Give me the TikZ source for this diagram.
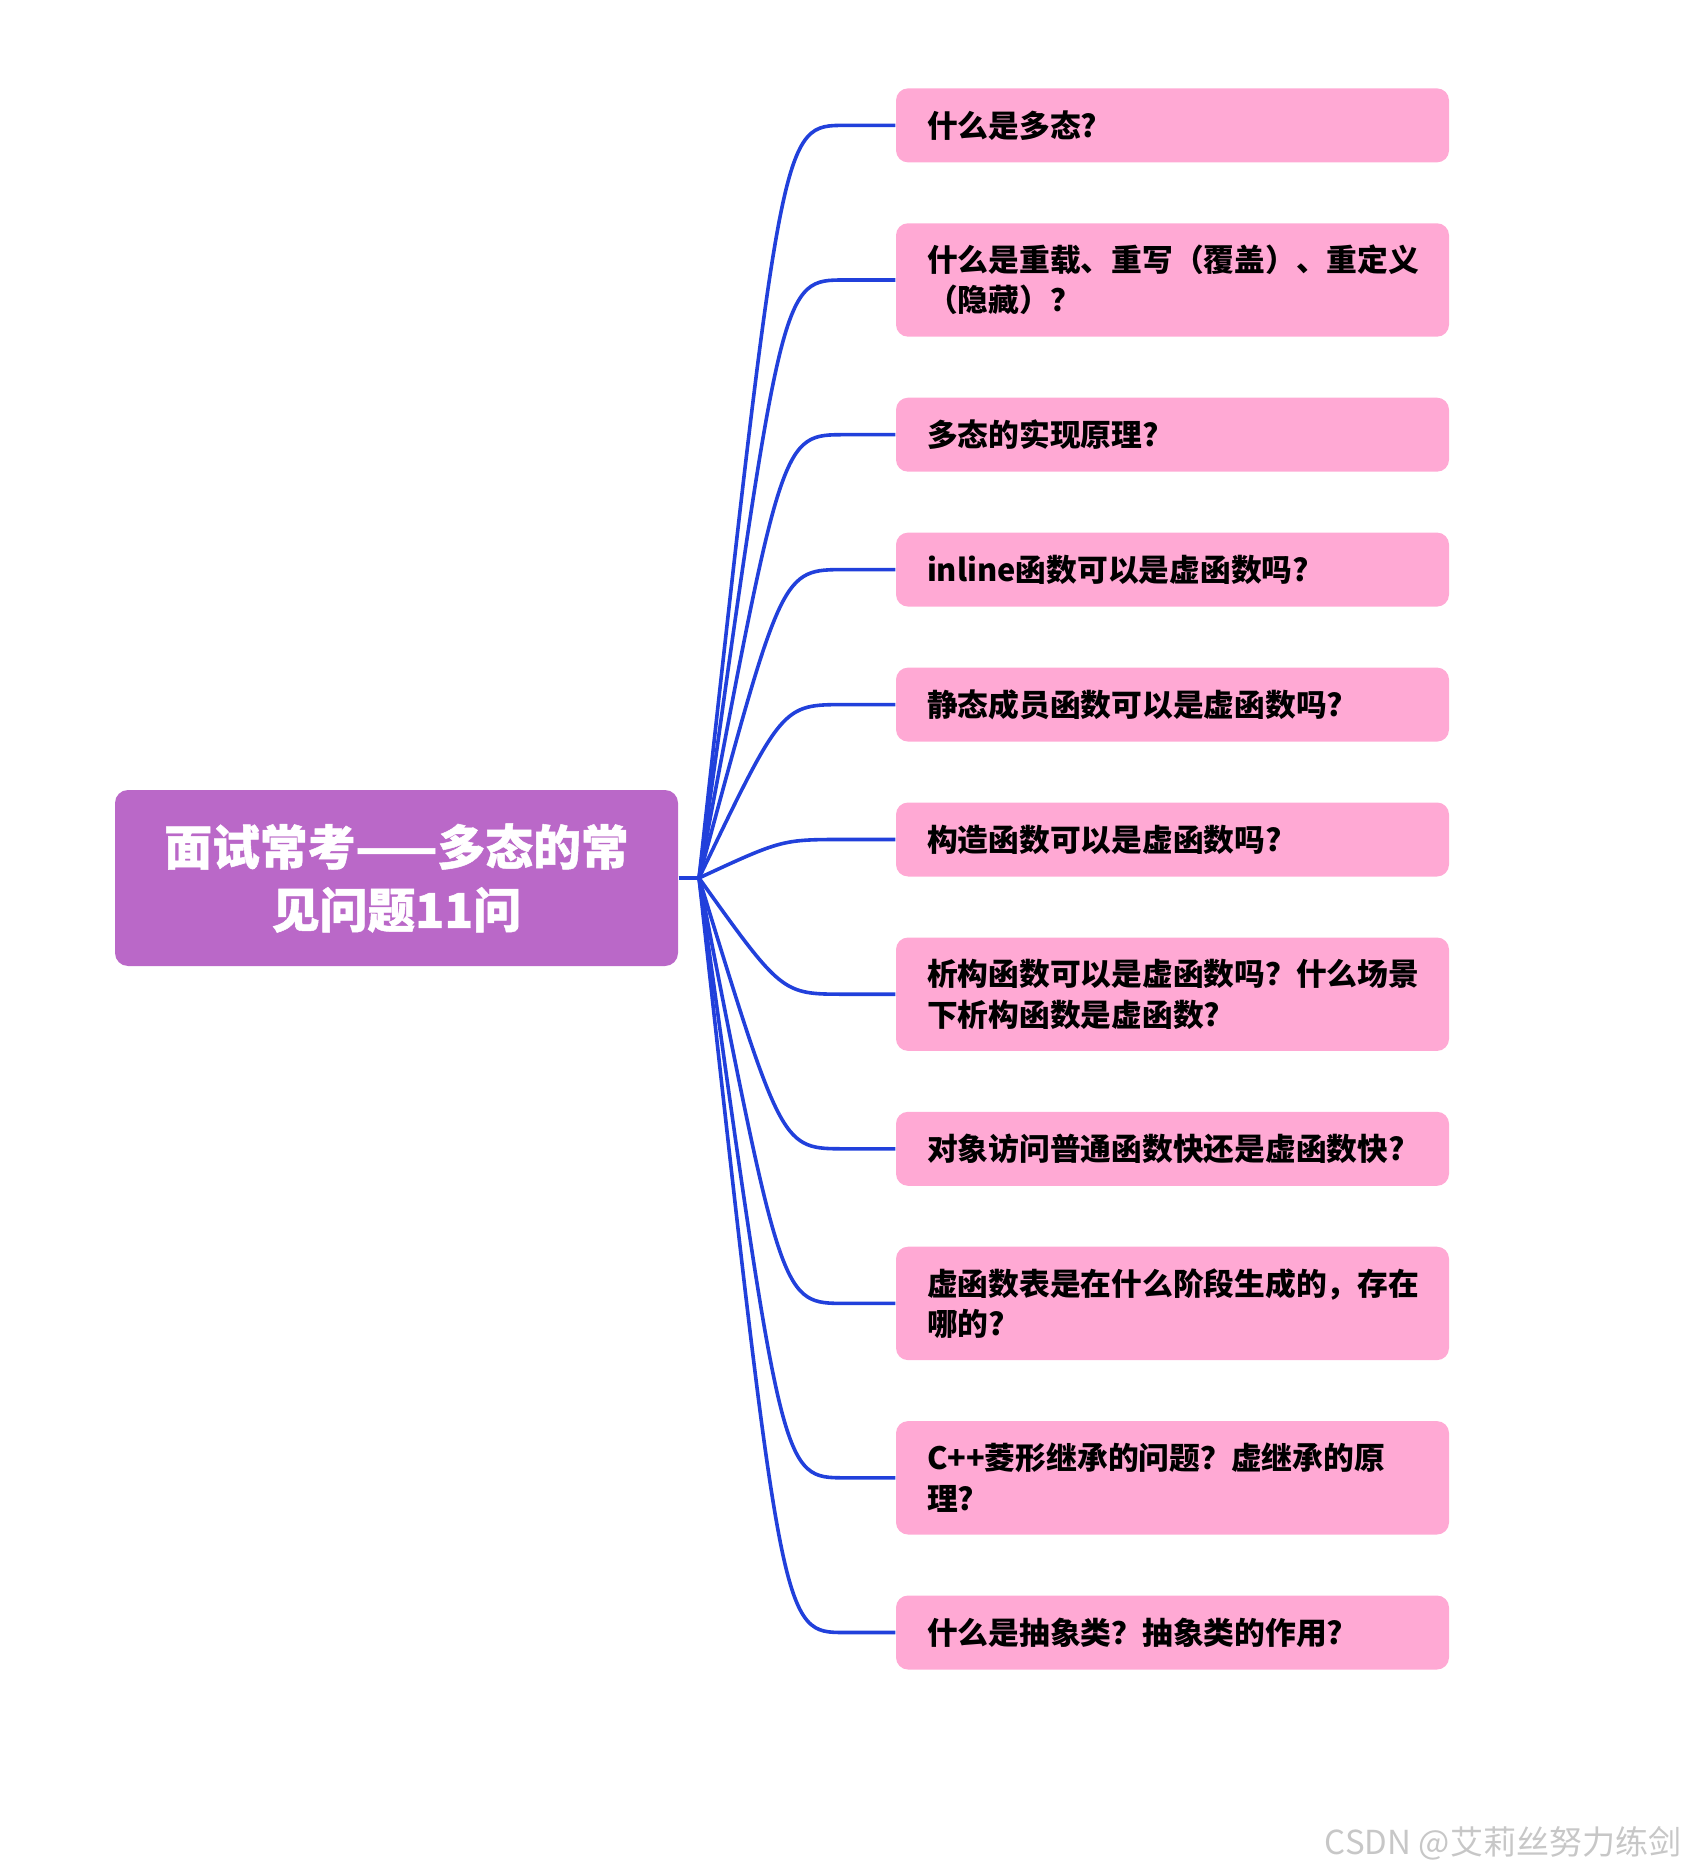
\documentclass[tikz,border=0pt]{standalone}
\usepackage{fontspec}
\setmainfont{Noto Sans CJK SC}
\newfontfamily\heavyfont{Noto Sans CJK SC}[BoldFeatures={FakeBold=1}]
\usepackage{tikz}
\usetikzlibrary{calc}
\definecolor{rootpurple}{HTML}{BA68C8}
\definecolor{leafpink}{HTML}{FFA9D4}
\definecolor{branchblue}{HTML}{2140DB}

\begin{document}
\begin{tikzpicture}[x=0.1mm,y=-0.1mm,
  rootbox/.style={fill=rootpurple, rounded corners=1.3mm, minimum width=56.3mm, minimum height=17.6mm, text=white, align=center, font=\heavyfont\fontsize{13.6}{17.9}\selectfont\bfseries},
  leafbox/.style={fill=leafpink, rounded corners=1.2mm, inner xsep=3.1mm, inner ysep=0pt, text width=49.1mm, align=left, font=\fontsize{8.75}{11.5}\selectfont\bfseries},
  branch/.style={draw=branchblue, line width=0.36mm}]
\useasboundingbox (0,0) rectangle (1685,1873);
% Root
\node[rootbox] (root) at (396.5,878) {面试常考——多态的常\\见问题11问};
\coordinate (hub) at (699,878);
\draw[branch] (root.east) -- (hub);
% Questions, fanned out from the hub
\foreach \i/\y/\h/\txt in {
  1/125.4/7.4/{什么是多态?},
  2/280.0/11.34/{什么是重载、重写（覆盖）、重定义\\（隐藏）？},
  3/434.7/7.4/{多态的实现原理?},
  4/569.6/7.4/{inline函数可以是虚函数吗?},
  5/704.6/7.4/{静态成员函数可以是虚函数吗?},
  6/839.5/7.4/{构造函数可以是虚函数吗?},
  7/994.2/11.34/{析构函数可以是虚函数吗？什么场景\\下析构函数是虚函数?},
  8/1148.8/7.4/{对象访问普通函数快还是虚函数快?},
  9/1303.4/11.34/{虚函数表是在什么阶段生成的，存在\\哪的?},
  10/1477.8/11.34/{C++菱形继承的问题？虚继承的原\\理?},
  11/1632.5/7.4/{什么是抽象类？抽象类的作用?}} {
  \node[leafbox, minimum height=\h mm] (q\i) at (1172.5,\y) {\txt};
  \coordinate (k\i) at (782,\y);
  \coordinate (e\i) at (845,\y);
  \draw[branch] (hub) .. controls (k\i) and (k\i) .. (e\i) -- (q\i.west);
}
% Watermark
\node[anchor=east, inner sep=0pt, text=black!22, font=\fontsize{9.4}{11}\selectfont] (mark) at (1682,1843) {CSDN @艾莉丝努力练剑};
\end{tikzpicture}
\end{document}
